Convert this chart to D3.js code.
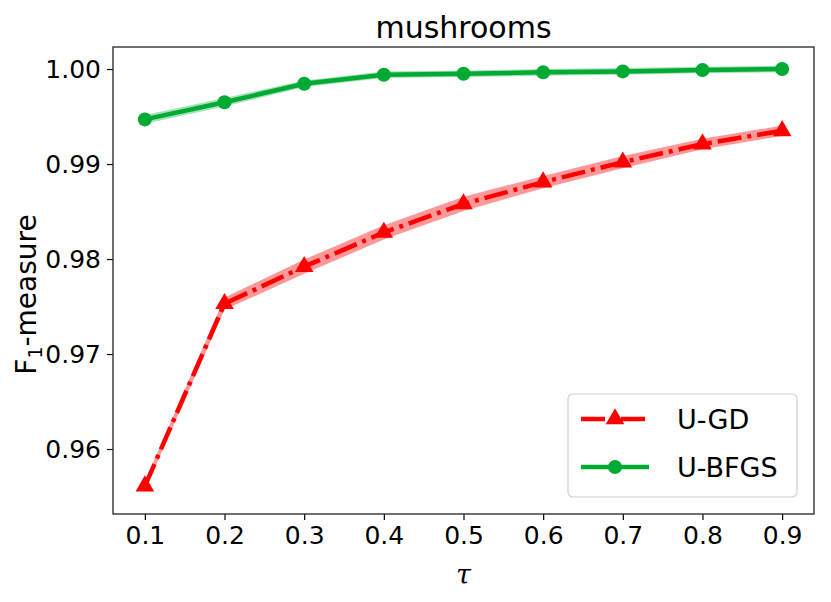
<!DOCTYPE html>
<html>
<head>
<meta charset="utf-8">
<script src="https://cdn.jsdelivr.net/npm/d3@7"></script>
<style>
  body { margin: 0; background: #fff; }
  text { font-family: "DejaVu Sans", sans-serif; fill: #000; }
</style>
</head>
<body>
<script>
// tau values on x axis
const taus = [0.1, 0.2, 0.3, 0.4, 0.5, 0.6, 0.7, 0.8, 0.9]
// U-GD mean and spread
const gdMean = [0.9561, 0.9753, 0.9792, 0.9828, 0.9858, 0.9881, 0.9902, 0.9921, 0.9935]
const gdStd = [0.0002, 0.0004, 0.0005, 0.0005, 0.0005, 0.0004, 0.0004, 0.0003, 0.0003]
// U-BFGS mean and spread
const bfgsMean = [0.9947, 0.9965, 0.99845, 0.9994, 0.9995, 0.99965, 0.99975, 0.9999, 1.0000]
const bfgsStd = [0.0002, 0.0002, 0.0001, 0.0001, 0.0001, 0.0001, 0.0001, 0.0001, 0.0001]
// tick labels
const xTicks = [0.1, 0.2, 0.3, 0.4, 0.5, 0.6, 0.7, 0.8, 0.9]
const yTicks = [0.96, 0.97, 0.98, 0.99, 1.00]

const width = 831, height = 602
const padL = 113, padR = 814, padT = 47, padB = 514

const svg = d3.select('body').append('svg')
  .attr('width', width).attr('height', height)

const x = d3.scaleLinear().domain([0.06, 0.94]).range([padL, padR])
const y = d3.scaleLinear().domain([0.95316, 1.00232]).range([padB, padT])

// axes
const xAxis = d3.axisBottom(x).tickValues(xTicks).tickFormat(d3.format('.1f')).tickSize(6).tickPadding(6)
const yAxis = d3.axisLeft(y).tickValues(yTicks).tickFormat(d3.format('.2f')).tickSize(6).tickPadding(6)

const gx = svg.append('g').attr('transform', 'translate(0,' + padB + ')').call(xAxis)
const gy = svg.append('g').attr('transform', 'translate(' + padL + ',0)').call(yAxis)
;[gx, gy].forEach(g => {
  g.select('.domain').remove()
  g.selectAll('.tick line').attr('stroke', '#000').attr('stroke-width', 1.2)
  g.selectAll('.tick text').style('font-size', '25px').attr('fill', '#000')
})

// frame
svg.append('rect')
  .attr('x', padL).attr('y', padT)
  .attr('width', padR - padL).attr('height', padB - padT)
  .attr('fill', 'none').attr('stroke', '#333').attr('stroke-width', 1.4)

const plot = svg.append('g')

const band = d3.area()
  .x((d, i) => x(taus[i]))
  .y0(d => y(d[0] - d[1]))
  .y1(d => y(d[0] + d[1]))
const line = d3.line().x((d, i) => x(taus[i])).y(d => y(d))

// U-BFGS
plot.append('path')
  .attr('d', band(bfgsMean.map((m, i) => [m, bfgsStd[i] + 0.00025])))
  .attr('fill', 'rgba(0,170,51,0.35)')
plot.append('path')
  .attr('d', line(bfgsMean))
  .attr('fill', 'none').attr('stroke', '#00aa33').attr('stroke-width', 4.5)
plot.selectAll('.bfgs-pt').data(bfgsMean).enter().append('circle')
  .attr('cx', (d, i) => x(taus[i])).attr('cy', d => y(d))
  .attr('r', 7).attr('fill', '#00aa33')

// U-GD
plot.append('path')
  .attr('d', band(gdMean.map((m, i) => [m, gdStd[i] + 0.00025])))
  .attr('fill', 'rgba(255,0,0,0.4)')
plot.append('path')
  .attr('d', line(gdMean))
  .attr('fill', 'none').attr('stroke', '#ff0000').attr('stroke-width', 4.5)
  .attr('stroke-dasharray', '24,6,4,6')
const tri = d3.symbol().type(d3.symbolTriangle).size(150)
plot.selectAll('.gd-pt').data(gdMean).enter().append('path')
  .attr('d', tri)
  .attr('transform', (d, i) => 'translate(' + x(taus[i]) + ',' + y(d) + ')')
  .attr('fill', '#ff0000')

// title and axis labels
svg.append('text').attr('x', (padL + padR) / 2).attr('y', 38)
  .attr('text-anchor', 'middle').style('font-size', '30px').text('mushrooms')

svg.append('text').attr('x', (padL + padR) / 2).attr('y', 584)
  .attr('text-anchor', 'middle').style('font-size', '27px')
  .style('font-family', '"DejaVu Serif", serif').style('font-style', 'italic').text('τ')

const yl = svg.append('text')
  .attr('transform', 'translate(36,' + ((padT + padB) / 2 + 14) + ') rotate(-90)')
  .attr('text-anchor', 'middle').style('font-size', '28px')
yl.append('tspan').text('F')
yl.append('tspan').attr('dy', 6).style('font-size', '19px').text('1')
yl.append('tspan').attr('dy', -6).text('-measure')

// legend
const lg = svg.append('g')
lg.append('rect').attr('x', 568).attr('y', 394).attr('width', 229).attr('height', 103)
  .attr('rx', 5).attr('fill', '#fff').attr('fill-opacity', 0.8)
  .attr('stroke', '#d0d0d0').attr('stroke-width', 1.2)

const legendNames = ['U-GD', 'U-BFGS']
const legendColors = ['#ff0000', '#00aa33']
legendNames.forEach((name, i) => {
  const yy = 419 + i * 48
  const ln = lg.append('line').attr('x1', 581).attr('x2', 649).attr('y1', yy).attr('y2', yy)
    .attr('stroke', legendColors[i]).attr('stroke-width', 4.5)
  if (i === 0) {
    ln.attr('stroke-dasharray', '24,6,4,6')
    lg.append('path').attr('d', tri).attr('transform', 'translate(615,' + yy + ')').attr('fill', legendColors[i])
  } else {
    lg.append('circle').attr('cx', 615).attr('cy', yy).attr('r', 7).attr('fill', legendColors[i])
  }
  lg.append('text').attr('x', 677).attr('y', yy + 10).style('font-size', '27px').text(name)
})
</script>
</body>
</html>
